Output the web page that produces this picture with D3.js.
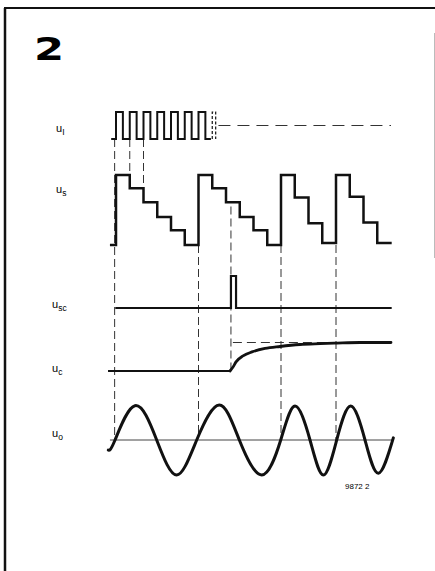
<!DOCTYPE html>
<html>
<head>
<meta charset="utf-8">
<script src="https://cdn.jsdelivr.net/npm/d3@7/dist/d3.min.js"></script>
<style>
    body { margin: 0; background: #fff; }
    svg { display: block; }
    text { -webkit-font-smoothing: antialiased; }
</style>
</head>
<body>
<div id="chart"></div>
<script>
(function (d3) {
    'use strict';

    // time is counted in clock periods, t = 0 at the first rising edge
    const clockStarts = [0, 1, 2, 3, 4, 5, 6];
    const clockDashedStart = [7];
    const stairLevels = [
        [1, 0.81, 0.61, 0.40, 0.21, 0],
        [1, 0.81, 0.61, 0.40, 0.21, 0],
        [1, 0.68, 0.31, 0.03],
        [1, 0.69, 0.32, 0.03]
    ];
    const scPulse = [8.36, 8.73];
    const ucT = [-0.58, 8.29, 8.51, 8.73, 9.24, 9.89, 10.84, 11.93, 13.38, 14.84, 16.07, 17.75, 20.0];
    const ucV = [0, 0, 0.14, 0.32, 0.53, 0.67, 0.79, 0.86, 0.93, 0.96, 0.98, 1.0, 1.0];
    const uoT = [-0.56, -0.07, 1.38, 2.96, 4.41, 5.87, 7.51, 8.97, 10.6, 11.98, 13.02, 14.11, 15.08, 16.05, 17.07, 18.11, 19.08, 20.17];
    const uoV = [-0.29, 0, 0.98, 0, -1, 0, 1, 0, -1, 0, 0.97, 0, -1, 0, 0.97, 0, -0.95, 0.06];
    // dashed guides: time, from (row, value), to (row, value)
    const guides = [
        [-0.1, 'uI', 0, 'uo', 0.1],
        [1, 'uI', 0, 'us', 0.81],
        [2, 'uI', 0, 'us', 0.61],
        [6, 'us', 0, 'uo', 0.1],
        [8.36, 'us', 0.55, 'uc', 0],
        [12, 'us', 0, 'uo', 0],
        [16, 'us', 0, 'uo', 0]
    ];
    const rowLabels = [
        ['uI', 'u', 'I'],
        ['us', 'u', 's'],
        ['usc', 'u', 'sc'],
        ['uc', 'u', 'c'],
        ['uo', 'u', 'o']
    ];

    var width = 435,
        height = 571,
        ink = '#111';

    var x = d3.scaleLinear().domain([0, 20]).range([116, 391]);
    var rows = {
        uI: d3.scaleLinear().domain([0, 1]).range([139, 112]),
        us: d3.scaleLinear().domain([0, 1]).range([245, 175]),
        usc: d3.scaleLinear().domain([0, 1]).range([308, 276]),
        uc: d3.scaleLinear().domain([0, 1]).range([371, 342.5]),
        uo: d3.scaleLinear().domain([-1, 1]).range([475, 405])
    };
    var labelPos = { uI: [56, 132], us: [56, 193], usc: [52, 308], uc: [52, 372], uo: [52, 437] };

    var svg = d3.select('#chart').append('svg')
        .attr('width', width)
        .attr('height', height);

    svg.append('rect')
        .attr('width', width)
        .attr('height', height)
        .attr('fill', '#fff');

    // frame
    svg.append('path')
        .attr('d', 'M4,8H435')
        .attr('stroke', ink).attr('stroke-width', 2);
    svg.append('path')
        .attr('d', 'M5,8V571')
        .attr('stroke', ink).attr('stroke-width', 2.5);
    svg.append('path')
        .attr('d', 'M434.5,33V258')
        .attr('stroke', '#bbb').attr('stroke-width', 1);

    svg.append('text')
        .attr('transform', 'translate(34,60) scale(1.35,1)')
        .attr('font-family', 'DejaVu Sans')
        .attr('font-weight', 'bold')
        .attr('font-size', 32)
        .attr('fill', '#000')
        .text('2');

    function line(row, curve) {
        return d3.line()
            .x(function (d) { return x(d[0]); })
            .y(function (d) { return rows[row](d[1]); })
            .curve(curve || d3.curveLinear);
    }

    // dashed guides first, so the traces sit on top
    svg.selectAll('path.guide').data(guides).enter()
        .append('path')
            .attr('class', 'guide')
            .attr('d', function (d) {
                return 'M' + x(d[0]) + ',' + rows[d[1]](d[2]) + 'V' + rows[d[3]](d[4]);
            })
            .attr('stroke', '#333')
            .attr('stroke-width', 1)
            .attr('stroke-dasharray', '8,4')
            .attr('fill', 'none');

    // u_o zero line
    svg.append('path')
        .attr('d', 'M' + x(-0.44) + ',' + rows.uo(0) + 'H' + x(20.15))
        .attr('stroke', '#444').attr('stroke-width', 1);

    // u_I clock
    var clock = [[-0.35, 0]];
    clockStarts.forEach(function (k) { clock.push([k, 1], [k + 0.5, 0]); });
    clock.push([6.9, 0]);
    svg.append('path')
        .attr('d', line('uI', d3.curveStepAfter)(clock))
        .attr('stroke', ink).attr('stroke-width', 2).attr('fill', 'none');

    clockDashedStart.forEach(function (k) {
        svg.append('path')
            .attr('d', line('uI')([[k, 0], [k, 1], [k + 0.25, 1], [k + 0.25, 0]]))
            .attr('stroke', ink).attr('stroke-width', 1.2)
            .attr('stroke-dasharray', '3,2').attr('fill', 'none');
        svg.append('path')
            .attr('d', line('uI')([[k + 0.45, 0.5], [20, 0.5]]))
            .attr('stroke', '#333').attr('stroke-width', 1)
            .attr('stroke-dasharray', '12,7').attr('fill', 'none');
    });

    // u_s staircase
    var stair = [[-0.44, 0]], t = 0;
    stairLevels.forEach(function (cycle) {
        cycle.forEach(function (v) { stair.push([t, v]); t += 1; });
    });
    stair.push([t + 0.05, stair[stair.length - 1][1]]);
    svg.append('path')
        .attr('d', line('us', d3.curveStepAfter)(stair))
        .attr('stroke', ink).attr('stroke-width', 2.5)
        .attr('stroke-linejoin', 'miter').attr('fill', 'none');

    // u_sc
    svg.append('path')
        .attr('d', line('usc', d3.curveStepAfter)([[-0.05, 0], [scPulse[0], 1], [scPulse[1], 0], [20.05, 0]]))
        .attr('stroke', ink).attr('stroke-width', 2.2).attr('fill', 'none');

    // u_c with its dashed final level
    svg.append('path')
        .attr('d', line('uc')([[8.5, 1], [19.9, 1]]))
        .attr('stroke', '#333').attr('stroke-width', 1)
        .attr('stroke-dasharray', '9,5').attr('fill', 'none');
    var uc = d3.zip(ucT, ucV);
    svg.append('path')
        .attr('d', line('uc', d3.curveMonotoneX)(uc.slice(0, 2)))
        .attr('stroke', ink).attr('stroke-width', 2.2).attr('fill', 'none');
    svg.append('path')
        .attr('d', line('uc', d3.curveMonotoneX)(uc.slice(1)))
        .attr('stroke', ink).attr('stroke-width', 2.8)
        .attr('stroke-linecap', 'round').attr('fill', 'none');

    // u_o
    svg.append('path')
        .attr('d', line('uo', d3.curveNatural)(d3.zip(uoT, uoV)))
        .attr('stroke', ink).attr('stroke-width', 3)
        .attr('stroke-linecap', 'round').attr('fill', 'none');

    // row labels
    rowLabels.forEach(function (l) {
        var p = labelPos[l[0]];
        var txt = svg.append('text')
            .attr('x', p[0]).attr('y', p[1])
            .attr('font-family', 'Liberation Sans, Arial, sans-serif')
            .attr('font-size', 11)
            .attr('fill', '#000')
            .text(l[1]);
        txt.append('tspan')
            .attr('dy', 2.5)
            .attr('font-size', 8.5)
            .text(l[2]);
    });

    svg.append('text')
        .attr('x', 345).attr('y', 489)
        .attr('font-family', 'Liberation Sans, Arial, sans-serif')
        .attr('font-size', 8)
        .attr('fill', '#000')
        .text('9872 2');
})(d3);
</script>
</body>
</html>
